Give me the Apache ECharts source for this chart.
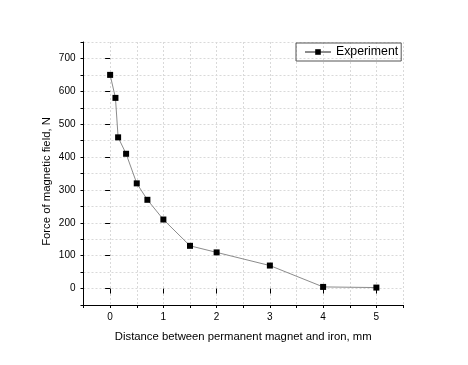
<!DOCTYPE html>
<html><head><meta charset="utf-8">
<script src="https://cdn.jsdelivr.net/npm/echarts@6/dist/echarts.min.js"></script>
<style>html,body{margin:0;padding:0;background:#fff}#c{width:468px;height:365px}</style>
</head><body><div id="c"></div>
<script>
const distance = [0, 0.1, 0.15, 0.3, 0.5, 0.7, 1, 1.5, 2, 3, 4, 5];
const force = [650, 580, 460, 410, 320, 270, 210, 130, 110, 70, 5, 3];
const seriesName = 'Experiment';
const xTitle = 'Distance between permanent magnet and iron, mm';
const yTitle = 'Force of magnetic field, N';
const xTickValues = [-0.5, 0, 0.5, 1, 1.5, 2, 2.5, 3, 3.5, 4, 4.5, 5, 5.5];
const yTickValues = [-50, 0, 50, 100, 150, 200, 250, 300, 350, 400, 450, 500, 550, 600, 650, 700, 750];

const font = 'Liberation Sans, Arial, sans-serif';
const chart = echarts.init(document.getElementById('c'), null, {renderer: 'canvas'});
const gridLine = {show: true, lineStyle: {color: '#d9d9d9', type: [2, 2], width: 1}};
chart.setOption({
  animation: false,
  backgroundColor: '#fff',
  grid: {left: 83.5, right: 65, top: 42, bottom: 60, containLabel: false},
  legend: {
    show: true, left: 296, top: 43, width: 100, padding: [3, 3, 3, 8],
    borderColor: '#555', borderWidth: 1, itemWidth: 26, itemHeight: 7, itemGap: 4,
    textStyle: {fontFamily: font, fontSize: 12.3, color: '#000'},
    data: [seriesName]
  },
  xAxis: [{
    type: 'value', min: -0.5, max: 5.5, interval: 0.5,
    name: xTitle, nameLocation: 'middle', nameGap: 26, nameMoveOverlap: false,
    nameTextStyle: {fontFamily: font, fontSize: 11.3, color: '#000'},
    axisLine: {show: true, onZero: false, lineStyle: {color: '#000', width: 1}},
    axisTick: {show: true, length: 3, lineStyle: {color: '#000'}},
    axisLabel: {margin: 7, fontFamily: font, fontSize: 10, color: '#000',
      formatter: v => (Math.abs(v - Math.round(v)) < 1e-9 && v >= 0 && v <= 5) ? String(Math.round(v)) : ''},
    splitLine: gridLine
  }, {
    type: 'category', data: xTickValues.map(String), boundaryGap: false, position: 'bottom',
    axisLine: {show: false},
    axisTick: {show: true, length: 5, interval: (i, v) => Number(v) % 1 === 0, lineStyle: {color: '#000'}},
    axisLabel: {show: false}, splitLine: {show: false}
  }],
  yAxis: [{
    type: 'value', min: -50, max: 750, interval: 50,
    name: yTitle, nameLocation: 'middle', nameGap: 31, nameRotate: 90, nameMoveOverlap: false,
    nameTextStyle: {fontFamily: font, fontSize: 11.3, color: '#000', padding: [0, 16, 0, 0]},
    axisLine: {show: true, onZero: false, lineStyle: {color: '#000', width: 1}},
    axisTick: {show: true, length: 3, lineStyle: {color: '#000'}},
    axisLabel: {margin: 8, fontFamily: font, fontSize: 10, color: '#000',
      formatter: v => (v % 100 === 0 && v >= 0 && v <= 700) ? String(v) : ''},
    splitLine: gridLine
  }, {
    type: 'category', data: yTickValues.map(String), boundaryGap: false, position: 'left',
    axisLine: {show: false},
    axisTick: {show: true, length: 5, interval: (i, v) => Number(v) % 100 === 0, lineStyle: {color: '#000'}},
    axisLabel: {show: false}, splitLine: {show: false}
  }],
  series: [{
    name: seriesName, type: 'line', xAxisIndex: 0, yAxisIndex: 0,
    data: distance.map((d, i) => [d, force[i]]),
    symbol: 'rect', symbolSize: 6, showAllSymbol: true,
    itemStyle: {color: '#000'},
    lineStyle: {color: '#8c8c8c', width: 1}
  }]
});
</script></body></html>
